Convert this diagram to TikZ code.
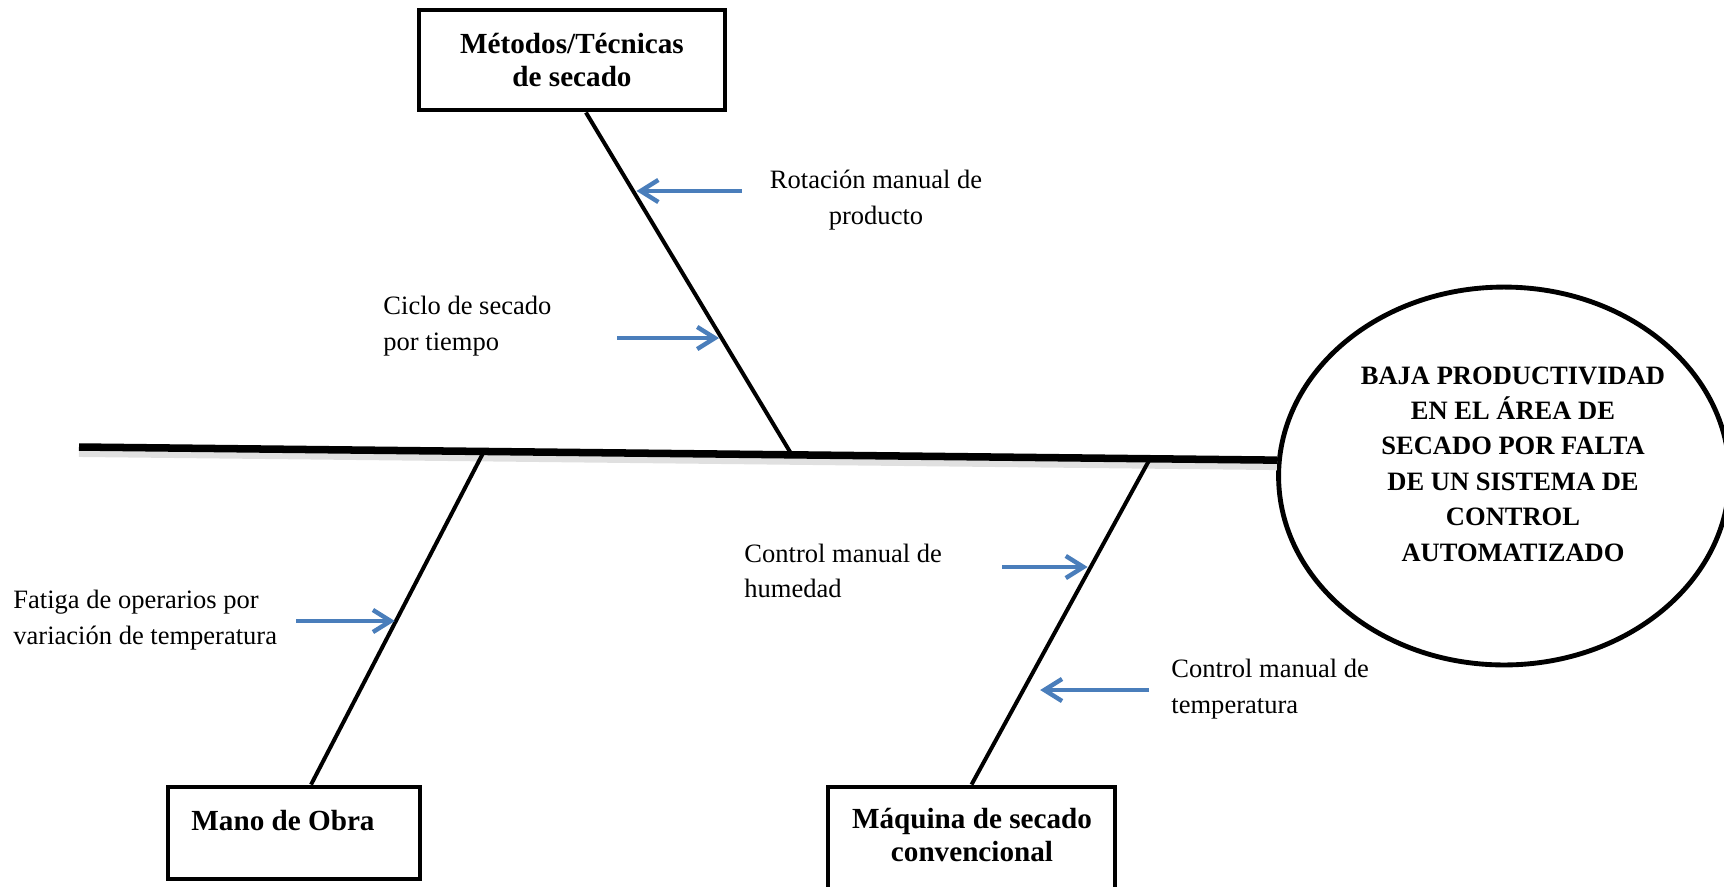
\documentclass[tikz,border=0pt]{standalone}
\usepackage{fontspec}
\setmainfont{Liberation Serif}
\usetikzlibrary{arrows.meta, shapes.geometric}
\definecolor{Blue}{HTML}{4A7EBB}
\newcommand\txt{\fontsize{12}{16}\selectfont}
\newcommand\head{\fontsize{13.2}{15}\selectfont\bfseries}

\begin{document}
\begin{tikzpicture}[
  x=0.4525pt,
  y=-0.4525pt,
  inner sep=0pt,
  font=\txt,
  causebox/.style={draw, line width=2.2pt, font=\head, align=center},
  bone/.style={line width=1.8pt},
  spine/.style={line width=3.4pt},
  arrow/.style={Blue, line width=2pt, -{Straight Barb[length=8pt, width=10pt]}},
  note/.style={align=left, anchor=west}]
\useasboundingbox (0,0) rectangle (1724,886);
% causes and effect
\node[causebox, minimum width=138.5pt, minimum height=45.3pt] (metodos) at (572,60) {Métodos/Técnicas\\de secado};
\node[causebox, minimum width=114pt, minimum height=41.6pt] (obra) at (294,833) {};
\node[font=\head] (obratxt) at (283,821) {Mano de Obra};
\node[causebox, minimum width=129.9pt, minimum height=47.5pt] (maquina) at (971.5,839.5) {};
\node[font=\head, align=center] (maquinatxt) at (972,835) {Máquina de secado\\convencional};
\node[draw, ellipse, line width=2.2pt, minimum width=204pt, minimum height=171pt] (efecto) at (1504,476) {};
\node[font=\txt\bfseries, align=center] (efectotxt) at (1513,464)
  {BAJA PRODUCTIVIDAD\\EN EL ÁREA DE\\SECADO POR FALTA\\DE UN SISTEMA DE\\CONTROL\\AUTOMATIZADO};
% spine
\coordinate (cola) at (79,447);
\draw[spine, black!12, line width=4pt] ([yshift=-2.5pt]cola) -- ([yshift=-2.5pt]efecto.176);
\draw[spine] (cola) -- coordinate[pos=0.338] (j2) coordinate[pos=0.595] (j1) coordinate[pos=0.894] (j3) (efecto.176);
% bones
\draw[bone] ([xshift=6.3pt]metodos.south) -- coordinate[pos=0.235] (b1) coordinate[pos=0.668] (b2) (j1);
\draw[bone] (j2) -- coordinate[pos=0.509] (b3) ([xshift=7.7pt]obra.north);
\draw[bone] (j3) -- coordinate[pos=0.337] (b4) coordinate[pos=0.708] (b5) (maquina.north);
% arrows
\coordinate (t1) at (742,191);
\coordinate (t2) at (617,338);
\coordinate (t3) at (296,621);
\coordinate (t4) at (1002,567);
\coordinate (t5) at (1149,690);
\foreach \t/\b/\s in {t1/b1/1pt, t2/b2/2pt, t3/b3/0.5pt, t4/b4/1pt, t5/b5/7.5pt}
  \draw[arrow, shorten >=\s] (\t) -- (\t -| \b);
% notes
\path
  (876,200) node[align=center] (rotacion) {Rotación manual de\\producto}
  (383,326) node[note] (ciclo) {Ciclo de secado\\por tiempo}
  (13,620) node[note] (fatiga) {Fatiga de operarios por\\variación de temperatura}
  (744,571) node[note] (humedad) {Control manual de\\humedad}
  (1171,689) node[note] (temperatura) {Control manual de\\temperatura}
  ;
\end{tikzpicture}
\end{document}
